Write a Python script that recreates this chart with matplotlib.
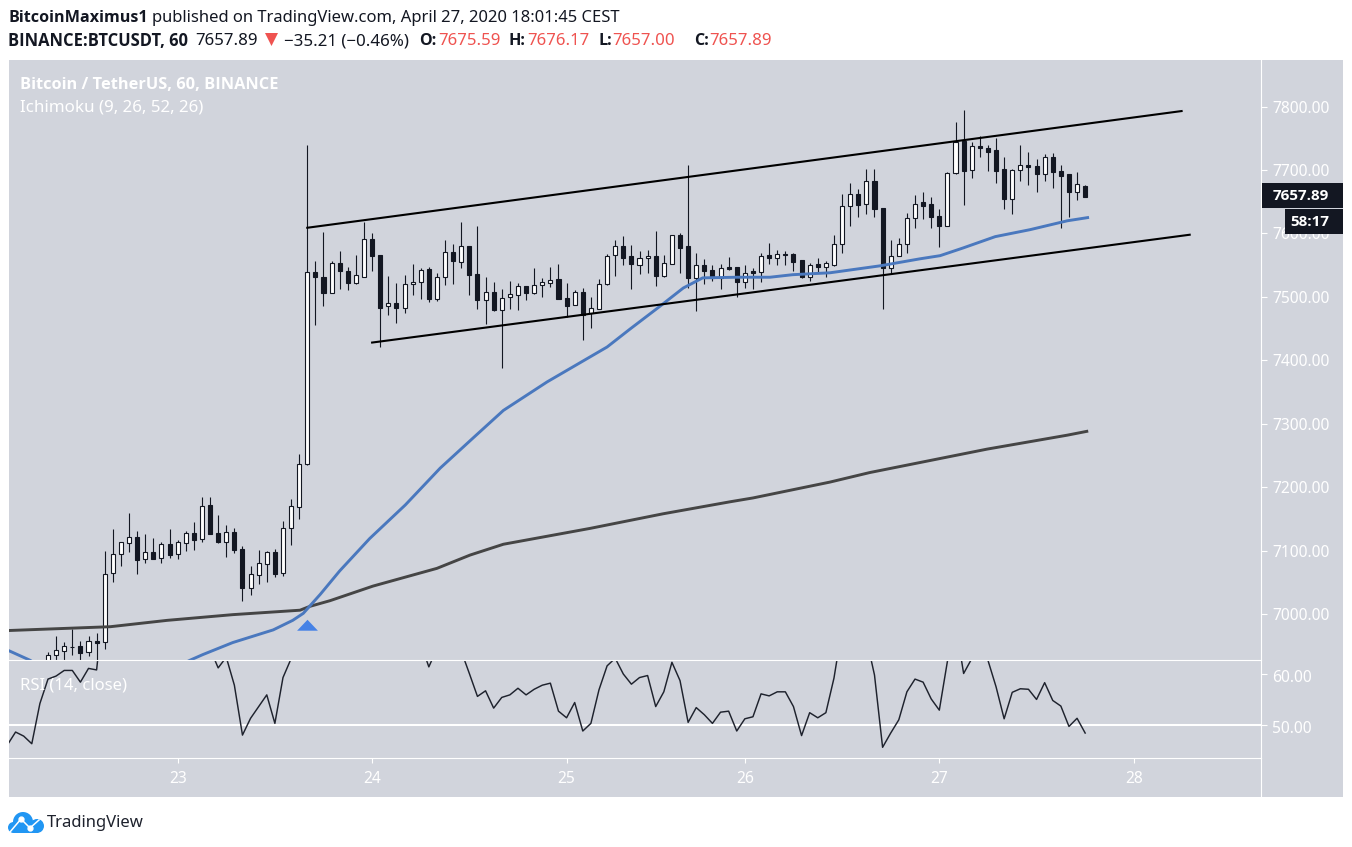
import matplotlib
matplotlib.use('Agg')
import matplotlib.pyplot as plt
from matplotlib.patches import Rectangle, Circle, Polygon
from matplotlib.transforms import ScaledTranslation

plt.rcParams['font.family'] = ['Noto Sans', 'DejaVu Sans']
BOLD = ['Open Sans', 'DejaVu Sans']

opens = [6920, 6936, 6942, 6948, 6950, 6940, 6957, 6956, 7064, 7094, 7112, 7121, 7086, 7098, 7088, 7110, 7095, 7112, 7128, 7119,
         7172, 7128, 7114, 7129, 7102, 7041, 7062, 7079, 7098, 7064, 7135, 7169, 7236, 7539, 7531, 7506, 7553, 7541, 7522, 7532,
         7591, 7566, 7485, 7491, 7483, 7521, 7524, 7544, 7497, 7532, 7571, 7555, 7580, 7536, 7495, 7508, 7480, 7500, 7503, 7517,
         7506, 7518, 7522, 7528, 7498, 7487, 7508, 7474, 7481, 7520, 7566, 7580, 7564, 7551, 7562, 7565, 7533, 7552, 7597, 7580,
         7530, 7550, 7542, 7530, 7547, 7547, 7524, 7541, 7540, 7566, 7562, 7567, 7567, 7558, 7532, 7552, 7547, 7550, 7583, 7643,
         7662, 7647, 7683, 7640, 7546, 7565, 7583, 7625, 7650, 7647, 7628, 7612, 7695, 7746, 7700, 7738, 7735, 7732, 7701, 7655,
         7700, 7708, 7707, 7693, 7721, 7699, 7693, 7666, 7675.59]
highs = [6940, 6966, 6956, 6976, 6957, 6965, 6970, 7099, 7134, 7114, 7159, 7131, 7126, 7120, 7113, 7134, 7117, 7131, 7145, 7185,
         7185, 7156, 7140, 7135, 7108, 7076, 7101, 7099, 7102, 7147, 7181, 7252, 7740, 7556, 7602, 7556, 7572, 7547, 7566, 7618,
         7601, 7566, 7533, 7522, 7534, 7552, 7545, 7547, 7537, 7590, 7583, 7618, 7581, 7612, 7531, 7523, 7512, 7525, 7522, 7517,
         7545, 7530, 7547, 7552, 7522, 7511, 7514, 7500, 7528, 7567, 7590, 7596, 7582, 7572, 7574, 7604, 7566, 7597, 7601, 7708,
         7569, 7560, 7550, 7552, 7563, 7547, 7550, 7545, 7569, 7585, 7574, 7572, 7569, 7558, 7553, 7561, 7556, 7597, 7662, 7679,
         7670, 7701, 7701, 7640, 7590, 7593, 7632, 7660, 7666, 7658, 7639, 7697, 7776, 7795, 7745, 7753, 7740, 7751, 7721, 7702,
         7740, 7729, 7718, 7726, 7727, 7708, 7693, 7697, 7676.17]
lows = [6900, 6925, 6920, 6935, 6920, 6934, 6920, 6945, 7051, 7076, 7097, 7063, 7080, 7086, 7080, 7088, 7087, 7099, 7101, 7114,
        7126, 7112, 7090, 7096, 7020, 7030, 7047, 7050, 7058, 7060, 7109, 7150, 7235, 7455, 7485, 7506, 7512, 7511, 7520, 7532,
        7541, 7421, 7471, 7459, 7474, 7503, 7496, 7492, 7493, 7519, 7520, 7545, 7503, 7481, 7457, 7478, 7388, 7481, 7479, 7495,
        7504, 7500, 7515, 7496, 7468, 7487, 7432, 7451, 7481, 7518, 7533, 7550, 7512, 7536, 7537, 7517, 7532, 7552, 7537, 7514,
        7478, 7520, 7525, 7512, 7542, 7500, 7514, 7512, 7523, 7552, 7550, 7550, 7541, 7530, 7525, 7539, 7531, 7549, 7569, 7612,
        7626, 7631, 7626, 7481, 7536, 7569, 7569, 7608, 7623, 7608, 7578, 7611, 7693, 7645, 7688, 7721, 7699, 7679, 7639, 7631,
        7682, 7677, 7666, 7683, 7672, 7608, 7626, 7652, 7657.00]
closes = [6936, 6944, 6949, 6948, 6939, 6957, 6955, 7063, 7094, 7113, 7121, 7085, 7097, 7087, 7110, 7093, 7113, 7127, 7117, 7171,
          7126, 7114, 7129, 7101, 7041, 7063, 7080, 7097, 7063, 7135, 7170, 7236, 7539, 7532, 7506, 7553, 7541, 7522, 7534, 7591,
          7565, 7483, 7491, 7483, 7521, 7524, 7543, 7496, 7532, 7570, 7557, 7580, 7534, 7495, 7507, 7479, 7499, 7504, 7517, 7506,
          7519, 7523, 7526, 7496, 7485, 7507, 7471, 7482, 7520, 7565, 7580, 7561, 7552, 7562, 7565, 7533, 7553, 7597, 7577, 7530,
          7550, 7541, 7530, 7545, 7544, 7523, 7538, 7538, 7564, 7561, 7567, 7566, 7555, 7531, 7551, 7547, 7553, 7583, 7644, 7662,
          7645, 7682, 7638, 7545, 7565, 7583, 7625, 7647, 7644, 7626, 7612, 7695, 7744, 7699, 7738, 7734, 7729, 7699, 7655, 7700,
          7708, 7705, 7693, 7721, 7697, 7691, 7666, 7678, 7657.89]
bars = list(range(len(closes)))

blue_x = [-4.8, -2.2, 1.5, 7.7, 12.6, 17.5, 19.1, 22.8, 27.8, 30.2, 31.5, 33.6, 36, 39.7, 44.1, 48.4, 52.5, 56.2, 61.6, 69, 71.8,
          75.5, 78.4, 80.8, 85, 89.1, 91.9, 96.5, 102.7, 107.6, 110.1, 112.9, 116.9, 121.2, 125.8, 128.3]
blue_y = [6942, 6927, 6896, 6872, 6896, 6927, 6936, 6955, 6975, 6990, 7001, 7031, 7068, 7119, 7172, 7230, 7278, 7321, 7366, 7421, 7449,
          7485, 7514, 7530, 7531, 7531, 7535, 7538, 7549, 7560, 7565, 7577, 7595, 7606, 7620, 7625]

dark_x = [-4.8, 7.7, 14.7, 22.8, 31.1, 32.3, 34.8, 40.1, 48, 52.1, 56.2, 66.9, 75.9, 84.2, 87, 96.5, 101.4, 115.9, 125.8, 128.2]
dark_y = [6974, 6980, 6990, 6999, 7006, 7012, 7021, 7044, 7072, 7093, 7110, 7135, 7158, 7177, 7183, 7208, 7223, 7260, 7282, 7288]

upper_x = [32, 139.9]
upper_y = [7609, 7793]
lower_x = [40, 140.9]
lower_y = [7428, 7598]

rsi_start = -5
rsi = [46.1, 48.6, 47.8, 46.3, 54.2, 59.0, 59.6, 60.7, 60.7, 58.4, 61.1, 60.8, 76, 78, 79, 79, 72, 72, 71, 72,
       70, 72, 73, 71, 75, 65, 61.2, 63.3, 57.8, 48.0, 51.3, 53.6, 55.9, 50.3, 59.3, 63.0, 68, 85, 84, 80,
       78, 76, 75, 72, 70, 73, 74, 72, 70, 72, 71, 66, 61.4, 65, 70, 68, 64.5, 60.1, 55.6, 56.7,
       53.3, 55.4, 55.9, 57.2, 55.9, 57.0, 57.8, 58.2, 52.7, 51.4, 54.4, 48.8, 50.3, 56.9, 61.6, 63.1, 60.0, 58.0, 59.3, 59.7,
       53.6, 56.5, 62.3, 58.7, 50.5, 53.4, 52.0, 50.3, 52.5, 52.7, 48.8, 51.2, 51.6, 56.1, 55.7, 56.5, 56.5, 53.6, 47.9, 52.4,
       51.4, 52.4, 59.2, 69, 70, 68, 67, 59.8, 45.6, 48.4, 51.0, 56.5, 59.0, 58.4, 55.1, 52.9, 62.5, 70, 60.1, 63,
       64, 62.7, 57.5, 51.2, 56.4, 57.1, 57.0, 55.0, 58.3, 54.8, 53.7, 49.7, 51.3, 48.4]
rsi_x = list(range(rsi_start, rsi_start + len(rsi)))

price_ticks = [7000, 7100, 7200, 7300, 7400, 7500, 7600, 7700, 7800]
rsi_ticks = [50, 60]
day_ticks = [16, 40, 64, 86, 110, 134]
day_labels = ['23', '24', '25', '26', '27', '28']

W, H = 1352, 847
PANE = '#d1d4dc'
INK = '#131722'
RED = '#ef5350'


def rect(l, t, r, b):
    return [l / W, 1 - b / H, (r - l) / W, (b - t) / H]


fig = plt.figure(figsize=(W / 100, H / 100), dpi=100, facecolor='white')

# background band, main pane, rsi pane, then a pixel overlay for the page texts
bg = fig.add_axes([0, 0, 1, 1], zorder=0)
bg.set_xlim(0, W)
bg.set_ylim(H, 0)
bg.axis('off')
bg.add_patch(Rectangle((9, 60), 1334, 737, fc=PANE, ec='none'))

ax = fig.add_axes(rect(9, 60, 1261, 660), zorder=1)
rs = fig.add_axes(rect(9, 660, 1261, 758), zorder=1)
for a in (ax, rs):
    a.patch.set_alpha(0)
    a.set_xlim(-4.813, 149.7)
    a.yaxis.tick_right()
    a.tick_params(axis='y', colors='white', length=4.5, width=0.8, labelsize=11.2, pad=3.5)
    for s in ('left', 'top', 'bottom'):
        a.spines[s].set_visible(False)
    a.spines['right'].set_color('white')

ax.set_ylim(6927.5, 7873.5)
ax.set_yticks(price_ticks, [f'{p:.2f}' for p in price_ticks])
ax.set_xticks([])

for b, o, h, l, c in zip(bars, opens, highs, lows, closes):
    ax.vlines(b, l, h, color=INK, lw=0.8, zorder=2)
    up = c >= o
    ax.bar(b, abs(c - o), bottom=min(o, c), width=0.5, color='white' if up else INK,
           edgecolor=INK, linewidth=0.8, zorder=3)

ax.plot(dark_x, dark_y, color='#454545', lw=2.1, zorder=4, solid_joinstyle='round')
ax.plot(blue_x, blue_y, color='#4a78be', lw=2.1, zorder=4, solid_joinstyle='round')
ax.plot(upper_x, upper_y, color='black', lw=1.5, zorder=5)
ax.plot(lower_x, lower_y, color='black', lw=1.5, zorder=5)
ax.plot(32, 6983, marker=[(-1, -0.5), (1, -0.5), (0, 0.55)], ms=15, color='#4682e6', mec='none', zorder=5)

rs.set_ylim(43.5, 62.75)
rs.axhline(50, color='white', lw=1.5, zorder=1)
rs.plot(rsi_x, rsi, color='#1e222d', lw=1.05, zorder=2)
rs.set_yticks(rsi_ticks, [f'{v:.2f}' for v in rsi_ticks])
rs.spines['top'].set_visible(True)
rs.spines['bottom'].set_visible(True)
rs.spines['top'].set_color('white')
rs.spines['bottom'].set_color('white')
rs.set_xticks(day_ticks, day_labels)
rs.tick_params(axis='x', colors='white', length=3.5, width=0.8, labelsize=11.2, pad=5.5)

# rsi labels sit a little under their ticks in the reference
for lab in rs.get_yticklabels():
    lab.set_transform(lab.get_transform() + ScaledTranslation(0, -2 / 100, fig.dpi_scale_trans))

ov = fig.add_axes([0, 0, 1, 1], zorder=2)
ov.set_xlim(0, W)
ov.set_ylim(H, 0)
ov.axis('off')
ov.patch.set_alpha(0)
ov.plot([1261, 1261], [758, 797], color='white', lw=0.8)

hs = 11.95
ov.text(8, 18, 'BitcoinMaximus1', fontsize=11.6, family=BOLD, fontweight='bold', color=INK, va='center')
ov.text(152, 18, 'published on TradingView.com, April 27, 2020 18:01:45 CEST', fontsize=hs, color=INK, va='center')
ov.text(8, 41, 'BINANCE:BTCUSDT, 60', fontsize=11.9, family=BOLD, fontweight='bold', color=INK, va='center')
ov.text(195, 41, '7657.89', fontsize=12.1, color=INK, va='center')
ov.add_patch(Polygon([(265, 33), (278, 33), (271.5, 46)], fc=RED, ec='none'))
ov.text(284, 41, '\u221235.21 (\u22120.46%)', fontsize=12.2, color=INK, va='center')
for lx, vx, lab, val in [(419, 438, 'O:', '7675.59'), (509, 527, 'H:', '7676.17'),
                         (598, 612, 'L:', '7657.00'), (694, 709, 'C:', '7657.89')]:
    ov.text(lx, 41, lab, fontsize=11.6, family=BOLD, fontweight='bold', color=INK, va='center')
    ov.text(vx, 41, val, fontsize=12.1, color=RED, va='center')

ov.text(20, 85, 'Bitcoin / TetherUS, 60, BINANCE', fontsize=11.8, family=BOLD, fontweight='bold', color='white', va='center')
ov.text(20, 107, 'Ichimoku (9, 26, 52, 26)', fontsize=12.2, color='white', va='center')
ov.text(20, 685, 'RSI (14, close)', fontsize=12, color='white', va='center')

ov.add_patch(Rectangle((1262, 183), 81, 25, fc=INK, ec='none'))
ov.text(1273, 196, '7657.89', fontsize=11, family=BOLD, fontweight='bold', color='white', va='center')
ov.add_patch(Rectangle((1285, 209), 58, 25, fc=INK, ec='none'))
ov.text(1290, 222, '58:17', fontsize=11, family=BOLD, fontweight='bold', color='white', va='center')

# TradingView logo
LOGO = '#2196f3'
ov.add_patch(Circle((23, 822), 10, fc=LOGO, ec='none'))
ov.add_patch(Circle((13.5, 827.5), 5.5, fc=LOGO, ec='none'))
ov.add_patch(Circle((37, 826), 7, fc=LOGO, ec='none'))
ov.add_patch(Rectangle((13, 825), 25, 8, fc=LOGO, ec='none'))
ov.plot([10, 21, 30, 39], [832, 819, 828, 820], color='white', lw=1.1)
ov.plot([21, 30], [819, 828], ls='none', marker='o', ms=3.5, color='white')
ov.text(47, 823, 'TradingView', fontsize=12, color='#1e222d', va='center')

fig.savefig('out.png', dpi=100, facecolor='white')
